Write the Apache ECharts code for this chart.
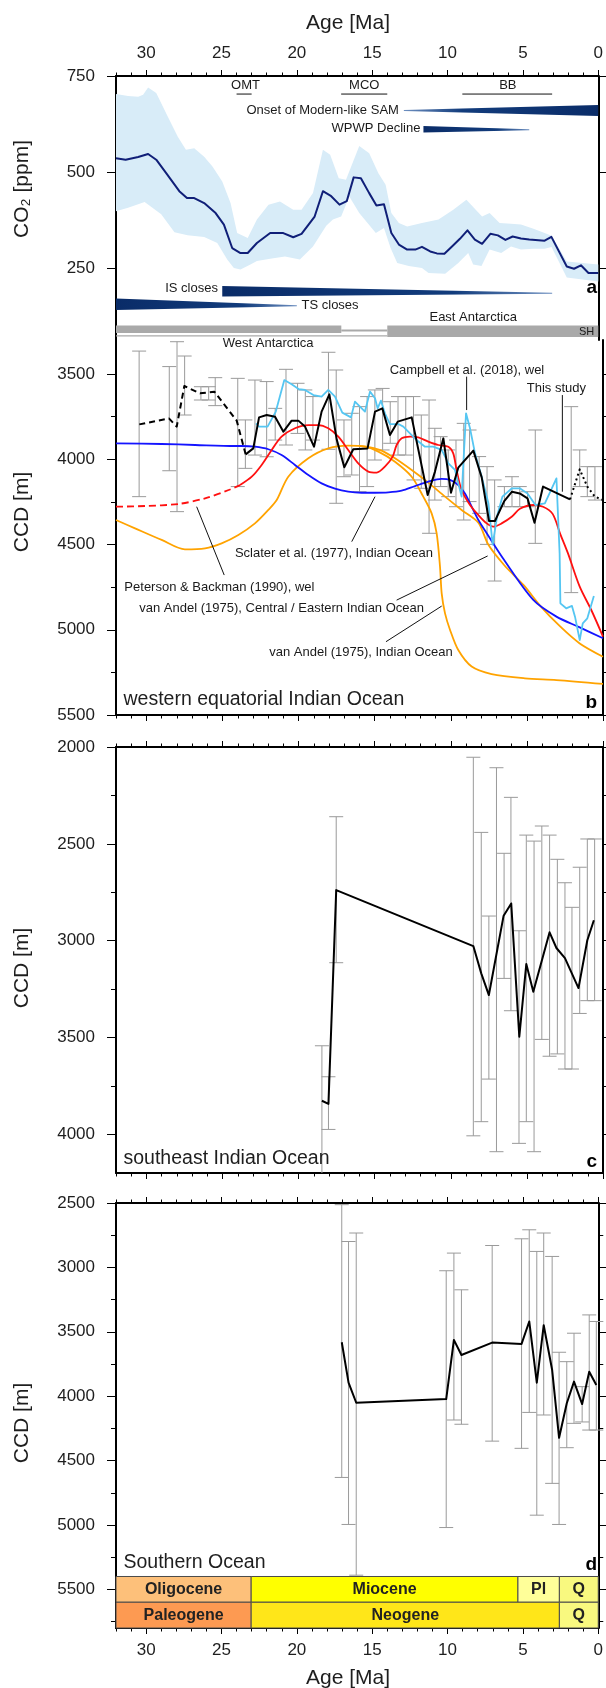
<!DOCTYPE html>
<html><head><meta charset="utf-8">
<script src="https://cdn.jsdelivr.net/npm/echarts@6/dist/echarts.min.js"></script>
<style>html,body{margin:0;padding:0;background:#fff}#c{width:606px;height:1688px}</style>
</head><body><div id="c"></div>
<script>
const FONT = '"Liberation Sans", Arial, Helvetica, sans-serif';

// ---- ticks ----
const AGE_MAJOR = [0,5,10,15,20,25,30];
const AGE_MINOR = [0,1,2,3,4,5,6,7,8,9,10,11,12,13,14,15,16,17,18,19,20,21,22,23,24,25,26,27,28,29,30,31,32];
const A_TICKS = [250,500,750];
const B_MAJOR = [3500,4000,4500,5000,5500];
const B_MINOR = [3750,4250,4750,5250];
const C_MAJOR = [2000,2500,3000,3500,4000];
const C_MINOR = [2250,2750,3250,3750];
const D_MAJOR = [2500,3000,3500,4000,4500,5000,5500];
const D_MINOR = [2750,3250,3750,4250,4750,5250,5750];

// ---- panel a: CO2 ----
const co2Age = [32.0,31.36,30.53,29.87,29.33,28.67,27.8,27.29,26.81,26.15,25.39,24.84,24.29,23.74,23.26,22.65,21.77,20.9,20.24,19.69,18.82,18.27,17.72,17.17,16.69,16.23,15.75,15.2,14.72,14.22,13.73,13.23,12.68,12.14,11.7,11.15,10.71,10.21,9.62,9.18,8.68,8.19,7.71,7.16,6.66,6.16,5.68,5.13,4.58,3.56,3.11,2.09,1.61,1.15,0.65,0];
const co2Val = [536,532,539,547,532,497,450,432,432,419,393,363,302,289,289,315,341,341,330,339,384,450,437,415,424,486,484,445,413,416,341,311,298,298,305,293,288,287,309,326,348,324,313,339,335,323,332,327,324,321,331,254,248,257,237,237];
const bandUpAge = [32,31.2,30.53,30.2,29.87,29.33,28.56,27.9,27.36,26.81,26.15,25.6,24.95,24.4,23.96,23.26,22.65,21.88,21.12,20.24,19.69,18.93,18.27,17.79,17.22,16.74,15.86,15.2,14.59,14.11,13.73,13.23,12.68,11.7,10.6,9.62,8.75,8.24,7.71,7.21,6.55,5.79,5.13,4.3,3.56,3.1,2.09,0];
const bandUp = [703,698,696,701,720,706,644,592,558,562,540,514,475,419,341,328,376,415,423,402,402,445,558,545,484,480,568,549,497,467,393,367,358,367,376,402,428,406,384,393,367,365,363,352,341,334,267,259];
const bandLoAge = [32,31.2,30.1,29.0,28.12,27.25,26.15,25.28,24.62,24.18,23.74,23.08,22.65,21.77,20.79,19.8,18.93,18.05,17.61,17.06,16.52,15.86,14.76,14.22,13.78,13.34,12.57,11.7,11.26,10.16,9.29,8.63,8.3,7.75,7.21,6.44,5.79,5.13,4.3,3.56,3.1,2.09,0];
const bandLo = [398,407,422,390,343,335,331,315,272,250,246,259,268,274,280,272,306,360,376,384,436,393,341,354,302,263,255,250,237,235,263,289,259,255,298,289,306,298,300,300,305,225,215];

// wedges: [age thick end, age thin end, value thick end, value thin end]
const wedges = [[0,12.9,660,660],[11.6,4.58,611.5,610],[24.95,3.06,189.3,184.1],[32,20.0,155.7,151.8]];
const wedgeHalf = [5.5,3.2,5.3,5.8];
// Antarctic ice bars: [age from, age to, value top, value bottom]
const antBars = [[32,17.05,100.3,80.7],[17.05,14.0,89.8,84.6],[14.0,0,100.3,70.3],[32,14.0,75.0,71.9]];
// event ranges: [from, to, value]
const events = [[24.0,23.0,703],[17.06,14.0,703],[9.02,3.06,703]];
const textA = [
  {age:23.41, val:726.6, text:'OMT', align:'center'},
  {age:15.53, val:726.6, text:'MCO', align:'center'},
  {age:6.0, val:726.6, text:'BB', align:'center'},
  {age:13.23, val:660.2, text:'Onset of Modern-like SAM', align:'right'},
  {age:11.8, val:613.8, text:'WPWP Decline', align:'right'},
  {age:25.24, val:197.1, text:'IS closes', align:'right'},
  {age:19.69, val:151.8, text:'TS closes', align:'left'},
  {age:8.3, val:120.6, text:'East Antarctica', align:'center'}
];
const textSH = [{age:0.77, val:84.1, text:'SH', align:'center'}];

// ---- panel b ----
const blackDashAge = [30.47,28.52,28.01,27.51,26.48,25.54,24.07,23.48];
const blackDash = [3795,3760,3808,3570,3613,3603,3773,3971];
const blackAge = [23.48,22.98,22.6,22.1,21.55,21.0,20.46,20.02,19.58,18.99,18.49,17.98,17.5,17.0,16.41,15.47,14.98,14.5,14.0,13.49,12.57,11.52,11.04,10.49,9.99,9.51,8.52,7.97,7.49,7.1,6.49,5.98,5.47,4.96,4.5,3.94,2.17];
const black = [3971,3936,3754,3740,3750,3838,3773,3773,3808,3926,3720,3619,3883,4047,3941,3936,3720,3701,3857,3779,3754,4209,4072,3877,4196,4049,3949,4106,4362,4362,4245,4190,4200,4229,4372,4160,4235];
const blackDotAge = [2.17,1.53,1.03,0.53,0];
const blackDot = [4235,4059,4160,4219,4239];
const cyanAge = [22.8,22.6,22.04,21.5,20.94,20.46,19.98,19.58,19.03,18.49,18.05,17.61,17.13,16.56,16.3,15.97,15.64,15.31,14.98,14.81,14.59,14.33,14.0,13.45,13.12,12.25,11.7,11.15,10.6,10.16,9.73,9.29,9.0,8.74,8.41,7.97,7.53,7.25,6.95,6.61,5.98,5.47,4.96,4.44,3.82,3.06,2.85,2.8,2.42,2.04,1.84,1.53,1.33,1.03,0.6];
const cyan = [3789,3808,3808,3720,3535,3560,3589,3593,3623,3632,3593,3632,3726,3754,3662,3691,3720,3603,3642,3701,3656,3730,3793,3793,3808,3887,3926,3926,3945,4024,4062,4219,3730,3818,3965,4102,4258,4500,4330,4219,4170,4170,4200,4268,4258,4112,4552,4845,4874,4860,4923,5060,4962,4933,4802];
const redDashAge = [32,30.1,27.9,26.15,24.6,23.85];
const redDash = [4278,4274,4262,4229,4180,4151];
const redAge = [23.85,23.08,22.43,21.77,21.12,20.24,19.36,18.71,18.05,17.39,16.74,16.08,15.42,14.87,14.33,13.82,13.56,13.23,12.68,12.14,11.48,10.82,10.16,9.84,9.62,9.29,8.74,8.19,7.64,7.2,6.66,6.0,5.46,4.58,3.94,3.31,2.8,2.3,1.53,0.77,0];
const red = [4151,4102,4033,3945,3867,3818,3799,3799,3818,3867,3945,4024,4072,4078,4043,3984,3916,3877,3867,3871,3896,3916,3926,3965,4063,4180,4268,4327,4376,4395,4376,4337,4290,4268,4278,4320,4440,4552,4747,4884,5040];
const blueAge = [32,29,26.8,24.18,23.74,22.87,21.99,21.12,20.24,19.36,18.49,17.61,16.74,15.86,14.98,14.11,13.23,12.35,11.48,10.6,10.05,9.51,9.07,8.63,8.19,7.64,6.61,4.58,3.06,1.53,0];
const blue = [3906,3910,3916,3922,3922,3926,3941,3975,4033,4092,4141,4172,4190,4196,4196,4194,4184,4157,4131,4115,4121,4151,4200,4278,4356,4434,4576,4825,4923,4986,5050];
const or1Age = [32,30.75,29.0,27.47,26.15,25.06,23.96,22.87,21.99,21.44,20.68,19.36,18.05,16.74,15.64,14.76,13.67,12.57,11.81,11.26,10.93,10.71,10.6,10.38,10.05,9.51,8.63,7.32,5.13,3.06,0];
const or1 = [4356,4405,4473,4528,4522,4493,4444,4376,4297,4239,4102,3994,3936,3920,3926,3955,4014,4102,4219,4317,4434,4630,4786,4904,5001,5119,5216,5260,5285,5295,5318];
const or2Age = [16.0,15.3,14.55,13.67,12.57,11.48,10.38,9.29,8.19,7.54,6.5,5.2,4.08,2.8,1.53,0];
const or2 = [3921,3930,3949,3994,4063,4137,4219,4297,4372,4500,4620,4740,4864,4982,5080,5158];
// error bars [age, top, bottom]
const errB = [[30.48,3365,4219],[28.5,3456,4067],[27.99,3310,4307],[27.49,3394,3740],[26.42,3574,3652],[25.91,3574,3652],[25.48,3521,3685],[24.0,3525,4160],[23.5,3769,4053],[22.87,3535,3975],[22.1,3544,3985],[21.54,3701,3887],[20.83,3472,3916],[20.07,3554,3848],[19.56,3593,3945],[19.06,3632,3887],[18.04,3372,3941],[17.53,3476,4258],[17.02,3769,4102],[16.51,3730,4092],[16.0,3691,4190],[15.5,3632,4160],[14.99,3593,4004],[14.48,3584,3945],[13.98,3662,3906],[13.47,3632,3975],[12.96,3632,3975],[12.45,3632,4121],[11.94,3740,4170],[11.43,3652,4434],[11.05,3818,4239],[10.67,3867,4160],[10.17,3945,4219],[9.66,3887,4278],[9.15,3789,4356],[8.77,3828,4248],[8.14,3984,4317],[7.62,4043,4499],[7.12,4121,4714],[6.48,4160,4278],[5.98,4102,4278],[5.47,4160,4278],[4.96,4190,4278],[4.45,3828,4493],[2.09,3691,4782],[1.53,3945,4160],[1.03,4043,4219],[0.53,4043,4239]];
const leaderB = [[8.96,3515,8.96,3711],[2.67,3623,2.67,4190],[16.51,4483,14.98,4219],[24.89,4679,26.7,4278],[13.56,4826,7.58,4567],[14.26,5070,10.6,4861]];
const textB = [
  {age:8.94, val:3476, text:'Campbell et al. (2018), wel', align:'center'},
  {age:3.06, val:3583, text:'This study', align:'center'},
  {age:17.68, val:4551, text:'Sclater et al. (1977), Indian Ocean', align:'center'},
  {age:31.45, val:4753, text:'Peterson & Backman (1990), wel', align:'left'},
  {age:30.47, val:4874, text:'van Andel (1975), Central / Eastern Indian Ocean', align:'left'},
  {age:15.9, val:5132, text:'van Andel (1975), Indian Ocean', align:'center'},
  {age:22.0, val:3319, text:'West Antarctica', align:'center'}
];

// ---- panel c ----
const cAge = [18.47,18.04,17.53,8.52,8.0,7.5,6.53,6.03,5.5,5.04,4.58,3.51,3.06,2.5,1.61,1.03,0.6];
const cVal = [3827,3843,2739,3028,3169,3281,2871,2808,3496,3121,3264,2957,3038,3090,3245,2998,2895];
const errC = [[18.47,3543,4290],[18.04,3703,3975],[17.53,2360,3114],[8.52,2053,4008],[8.0,2441,3935],[7.5,2873,3715],[7.0,2107,4090],[6.5,2549,3195],[6.05,2260,3362],[5.52,2949,4047],[5.04,2455,3935],[4.53,2486,4090],[4.02,2408,3510],[3.51,2455,3597],[3.0,2580,3585],[2.5,2701,3663],[2.04,2828,3663],[1.53,2621,3376],[1.03,2475,3310],[0.55,2475,3310]];

// ---- panel d ----
const dAge = [17.02,16.57,16.06,10.09,9.58,9.08,7.04,5.09,4.58,4.08,3.62,3.06,2.6,2.09,1.61,1.07,0.6,0.13];
const dVal = [3581,3895,4051,4022,3563,3680,3584,3594,3420,3895,3449,3797,4323,4055,3887,4061,3810,3913];
const errD = [[17.02,2513,4631],[16.57,2799,4996],[16.06,2733,5390],[10.09,3026,5020],[9.58,2889,4185],[9.08,3174,4218],[7.04,2830,4349],[5.09,2778,4405],[4.58,2708,4126],[4.08,2876,4924],[3.62,2733,4146],[3.06,2915,4677],[2.6,3659,4996],[2.09,3732,4400],[1.61,3511,4211],[1.07,3926,4200],[0.6,3369,4263],[0.13,3420,4263]];
// geologic time scale
const epochName = ['Oligocene','Miocene','Pl','Q','Paleogene','Neogene','Q'];
const epochFrom = [32,23.03,5.33,2.58,32,23.03,2.58];
const epochTo = [23.03,5.33,2.58,0,23.03,2.58,0];
const epochTop = [5400,5400,5400,5400,5600,5600,5600];
const epochBot = [5600,5600,5600,5600,5800,5800,5800];
const epochColor = ['#FDC07A','#FFFF00','#FFFF99','#F9F97F','#FD9A52','#FFE619','#F9F97F'];

// ---------- layout ----------
const GRIDS = [
  {top:76, height:264, ext:[62.5,750], inv:false, major:A_TICKS, minor:null, xTop:true, xBot:false, topLabels:true, botLabels:false},
  {top:340, height:375, ext:[3300,5500], inv:true, major:B_MAJOR, minor:B_MINOR, xTop:false, xBot:true, topLabels:false, botLabels:false},
  {top:747, height:426, ext:[2000,4200], inv:true, major:C_MAJOR, minor:C_MINOR, xTop:true, xBot:true, topLabels:false, botLabels:false},
  {top:1203, height:425, ext:[2500,5800], inv:true, major:D_MAJOR, minor:D_MINOR, xTop:true, xBot:true, topLabels:false, botLabels:true}
];
const xAxes = [], yAxes = [], XI = [], YI = [];
const lbl = {fontSize:17, fontFamily:FONT, color:'#1e1e1e', formatter: v => String(v)};
function xAx(g, pos, major, labels, line) {
  xAxes.push({type:'value', gridIndex:g, position:pos, min:0, max:32, inverse:true,
    axisLine:{show:line, onZero:false, lineStyle:{color:'#000', width:2}},
    axisTick:{show:true, length: major?6:3.5, customValues: major?AGE_MAJOR:AGE_MINOR, lineStyle:{color:'#000', width:1}},
    axisLabel:Object.assign({show:labels, customValues:AGE_MAJOR, margin:14, hideOverlap:false}, lbl),
    splitLine:{show:false}, minorTick:{show:false}});
  return xAxes.length-1;
}
function yAx(g, pos, major, labels, line) {
  const G = GRIDS[g];
  const vals = major ? G.major : G.minor;
  yAxes.push({type:'value', gridIndex:g, position:pos, min:G.ext[0], max:G.ext[1], inverse:G.inv,
    axisLine:{show:line, onZero:false, lineStyle:{color:'#000', width:2}},
    axisTick:{show:true, length: major?9:5, customValues: vals, lineStyle:{color:'#000', width:1}},
    axisLabel:Object.assign({show:labels, customValues:vals, margin:21, hideOverlap:false}, lbl),
    splitLine:{show:false}});
  return yAxes.length-1;
}
GRIDS.forEach((G, g) => {
  let first = null;
  if (G.xTop) { const i = xAx(g,'top',true,G.topLabels,true); xAx(g,'top',false,false,false); if (first===null) first = i; }
  if (G.xBot) { const i = xAx(g,'bottom',true,G.botLabels,true); xAx(g,'bottom',false,false,false); if (first===null) first = i; }
  XI[g] = first;
  YI[g] = yAx(g,'left',true,true,true);
  yAx(g,'right',true,false,true);
  if (G.minor) { yAx(g,'left',false,false,false); yAx(g,'right',false,false,false); }
});

// ---------- series helpers ----------
function pairs(a, v) { return a.map((x,i) => [x, v[i]]); }
function lineS(g, ages, vals, color, width, dash, z, smooth) {
  return {type:'line', xAxisIndex:XI[g], yAxisIndex:YI[g], data:pairs(ages, vals), showSymbol:false, symbol:'none',
    smooth: smooth||false, lineStyle:{color, width, type: dash||'solid', cap:'butt', join:'round'}, z: z||3, silent:true, clip:true, animation:false};
}
function customS(g, data, renderItem, z, clip) {
  return {type:'custom', xAxisIndex:XI[g], yAxisIndex:YI[g], data, renderItem, z: z==null?2:z, silent:true, clip:!!clip, encode:{x:0, y:1}, animation:false};
}
function errRender(arr) {
  return (params, api) => {
    const d = arr[params.dataIndex];
    const cs = params.coordSys;
    const yMin = cs.y, yMax = cs.y + cs.height;
    const t = api.coord([d[0], d[1]]), b = api.coord([d[0], d[2]]);
    const st = {stroke:'#9a9a9a', lineWidth:1, fill:null};
    const h = 7;
    const ty = Math.max(yMin, Math.min(yMax, t[1])), by = Math.max(yMin, Math.min(yMax, b[1]));
    const kids = [{type:'line', shape:{x1:t[0], y1:ty, x2:b[0], y2:by}, style:st}];
    if (t[1] >= yMin && t[1] <= yMax) kids.push({type:'line', shape:{x1:t[0]-h, y1:t[1], x2:t[0]+h, y2:t[1]}, style:st});
    if (b[1] >= yMin && b[1] <= yMax) kids.push({type:'line', shape:{x1:b[0]-h, y1:b[1], x2:b[0]+h, y2:b[1]}, style:st});
    return {type:'group', children:kids};
  };
}
function textRender(items, size, weight) {
  return (params, api) => {
    const it = items[params.dataIndex];
    const p = api.coord([it.age, it.val]);
    return {type:'text', x:p[0], y:p[1], style:{text:it.text, fontSize:size, fontWeight:weight||'normal', fontFamily:FONT, fill:'#1a1a1a', align:it.align, verticalAlign:'middle'}};
  };
}
function textPts(items) { return items.map(it => [it.age, it.val]); }

const series = [];
// ---- panel a ----
series.push(customS(0, pairs(bandUpAge, bandUp), (params, api) => {
  if (params.dataIndex !== 0) return null;
  const pts = [];
  for (let i = 0; i < bandUpAge.length; i++) pts.push(api.coord([bandUpAge[i], bandUp[i]]));
  for (let i = bandLoAge.length-1; i >= 0; i--) pts.push(api.coord([bandLoAge[i], bandLo[i]]));
  return {type:'polygon', shape:{points:pts}, style:{fill:'#d8ecf8'}};
}, 1, true));
series.push(lineS(0, co2Age, co2Val, '#101f78', 2, 'solid', 3));
series.push(customS(0, antBars.map(b => [b[0], b[2], b[1], b[3]]), (params, api) => {
  const b = antBars[params.dataIndex];
  const p1 = api.coord([b[0], b[2]]), p2 = api.coord([b[1], b[3]]);
  return {type:'rect', shape:{x:p1[0], y:p1[1], width:p2[0]-p1[0], height:p2[1]-p1[1]}, style:{fill:'#a9a9a9'}};
}, 3));
series.push(customS(0, wedges.map(w => [w[0], w[2], w[1], w[3]]), (params, api) => {
  const w = wedges[params.dataIndex], h = wedgeHalf[params.dataIndex];
  const p1 = api.coord([w[0], w[2]]), p2 = api.coord([w[1], w[3]]);
  return {type:'polygon', shape:{points:[[p1[0], p1[1]-h],[p2[0], p2[1]-0.5],[p2[0], p2[1]+0.5],[p1[0], p1[1]+h]]},
    style:{fill:{type:'linear', x:p1[0], y:0, x2:p2[0], y2:0, global:true, colorStops:[{offset:0,color:'#0a2c68'},{offset:0.7,color:'#123c7c'},{offset:1,color:'#6d8fc0'}]}}};
}, 4));
series.push(customS(0, events.map(e => [e[0], e[2], e[1]]), (params, api) => {
  const e = events[params.dataIndex];
  const p1 = api.coord([e[0], e[2]]), p2 = api.coord([e[1], e[2]]);
  return {type:'line', shape:{x1:p1[0], y1:p1[1], x2:p2[0], y2:p2[1]}, style:{stroke:'#111', lineWidth:1}};
}, 4));
series.push(customS(0, textPts(textA), textRender(textA, 13), 5));
series.push(customS(0, textPts(textSH), textRender(textSH, 11), 5));

// ---- panel b ----
series.push(customS(1, errB, errRender(errB), 2));
series.push(lineS(1, or1Age, or1, '#ffa300', 1.8, 'solid', 3, 0.3));
series.push(lineS(1, or2Age, or2, '#ffa300', 1.8, 'solid', 3, 0.3));
series.push(lineS(1, blueAge, blue, '#1414ff', 1.8, 'solid', 4, 0.3));
series.push(lineS(1, redDashAge, redDash, '#ff1010', 1.8, [7,4], 5, 0.3));
series.push(lineS(1, redAge, red, '#ff1010', 1.8, 'solid', 5, 0.3));
series.push(lineS(1, cyanAge, cyan, '#55c6f2', 1.8, 'solid', 6));
series.push(lineS(1, blackDashAge, blackDash, '#000', 2, [6,4], 7));
series.push(lineS(1, blackAge, black, '#000', 2, 'solid', 7));
series.push(lineS(1, blackDotAge, blackDot, '#000', 2, [2,3], 7));
series.push(customS(1, leaderB.map(l => [l[0], l[1], l[2], l[3]]), (params, api) => {
  const l = leaderB[params.dataIndex];
  const p1 = api.coord([l[0], l[1]]), p2 = api.coord([l[2], l[3]]);
  return {type:'line', shape:{x1:p1[0], y1:p1[1], x2:p2[0], y2:p2[1]}, style:{stroke:'#111', lineWidth:1}};
}, 8));
series.push(customS(1, textPts(textB), textRender(textB, 13), 9));

// ---- panel c ----
series.push(customS(2, errC, errRender(errC), 2));
series.push(lineS(2, cAge, cVal, '#000', 2, 'solid', 5));

// ---- panel d ----
series.push(customS(3, epochFrom.map((f,i) => [f, epochTop[i], epochTo[i], epochBot[i]]), (params, api) => {
  const i = params.dataIndex;
  const p1 = api.coord([epochFrom[i], epochTop[i]]), p2 = api.coord([epochTo[i], epochBot[i]]);
  return {type:'group', children:[
    {type:'rect', shape:{x:p1[0], y:p1[1], width:p2[0]-p1[0], height:p2[1]-p1[1]}, style:{fill:epochColor[i], stroke:'#4a4a4a', lineWidth:1}},
    {type:'text', x:(p1[0]+p2[0])/2, y:(p1[1]+p2[1])/2, style:{text:epochName[i], fontSize:16, fontWeight:'bold', fontFamily:FONT, fill:'#222', align:'center', verticalAlign:'middle'}}
  ]};
}, 1));
series.push(customS(3, errD, errRender(errD), 2));
series.push(lineS(3, dAge, dVal, '#000', 2, 'solid', 5));

// ---------- titles / labels ----------
function T(x, y, text, size, opts) {
  return Object.assign({type:'text', x, y, z:100, style:Object.assign({text, fontSize:size, fontFamily:FONT, fill:'#1e1e1e', align:'center', verticalAlign:'middle'}, (opts&&opts.style)||{})}, (opts&&opts.el)||{});
}
const rot = {el:{rotation:Math.PI/2}};
const graphic = [
  T(348, 23, 'Age [Ma]', 21),
  T(348, 1678, 'Age [Ma]', 21),
  T(22, 189, 'CO₂ [ppm]', 21, rot),
  T(22, 512, 'CCD [m]', 21, rot),
  T(22, 968, 'CCD [m]', 21, rot),
  T(22, 1423, 'CCD [m]', 21, rot),
  T(597, 288, 'a', 19, {style:{fontWeight:'bold', align:'right', fill:'#000'}}),
  T(597, 703, 'b', 19, {style:{fontWeight:'bold', align:'right', fill:'#000'}}),
  T(597, 1162, 'c', 19, {style:{fontWeight:'bold', align:'right', fill:'#000'}}),
  T(597, 1565, 'd', 19, {style:{fontWeight:'bold', align:'right', fill:'#000'}}),
  T(123.5, 700, 'western equatorial Indian Ocean', 19.5, {style:{align:'left'}}),
  T(123.5, 1159, 'southeast Indian Ocean', 19.5, {style:{align:'left'}}),
  T(123.5, 1563, 'Southern Ocean', 19.5, {style:{align:'left'}})
];

const chart = echarts.init(document.getElementById('c'), null, {renderer:'canvas', width:606, height:1688});
chart.setOption({
  animation:false,
  backgroundColor:'#ffffff',
  grid: GRIDS.map(G => ({left:116, right:3, top:G.top, height:G.height, show:false})),
  xAxis: xAxes,
  yAxis: yAxes,
  series,
  graphic
});
</script></body></html>
